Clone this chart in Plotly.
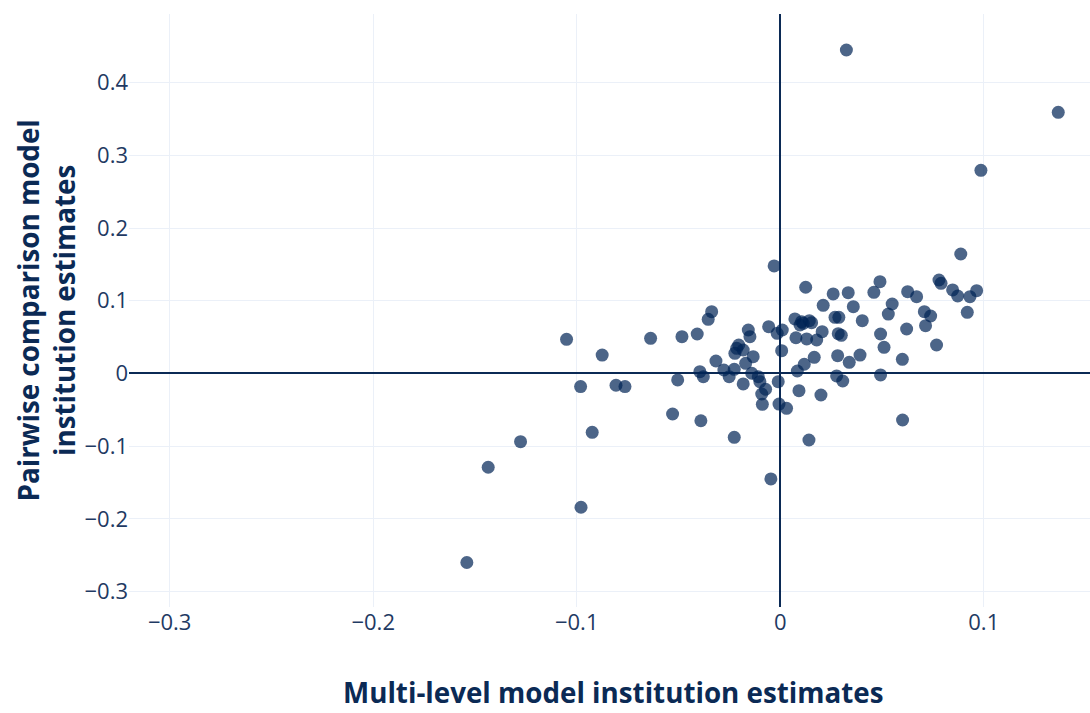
import plotly.graph_objects as go

multilevel_x = [
    -0.154, -0.1435, -0.1276, -0.0979, -0.0924, -0.105, -0.0875, -0.0981, -0.0807, -0.0763,
    -0.0637, -0.0529, -0.0504, -0.0483, -0.0408, -0.039, -0.0395, -0.0378, -0.0354, -0.0337,
    -0.0316, -0.0277, -0.0251, -0.0226, -0.0226, -0.0223, -0.0214, -0.0204, -0.0182, -0.0182,
    -0.017, -0.0157, -0.0149, -0.014, -0.0133, -0.0108, -0.010, -0.0091, -0.0088, -0.0072,
    -0.0057, -0.0046, -0.003, -0.0015, -0.001, -0.0006, 0.0007, 0.001, 0.0031, 0.0072,
    0.0077, 0.0084, 0.0092, 0.0097, 0.0105, 0.0113, 0.0118, 0.0125, 0.013, 0.0141,
    0.0143, 0.0154, 0.0167, 0.0179, 0.020, 0.0206, 0.0211, 0.026, 0.0269, 0.0277,
    0.0282, 0.0285, 0.0288, 0.030, 0.0307, 0.0325, 0.0334, 0.0339, 0.0359, 0.0392,
    0.0403, 0.046, 0.049, 0.0493, 0.0493, 0.051, 0.0531, 0.055, 0.060, 0.0601,
    0.0621, 0.0626, 0.067, 0.0708, 0.0714, 0.0739, 0.0768, 0.078, 0.079, 0.0847,
    0.0872, 0.0887, 0.0919, 0.0932, 0.0965, 0.0986, 0.1366,
]
pairwise_y = [
    -0.260, -0.129, -0.0938, -0.184, -0.0809, 0.047, 0.0254, -0.018, -0.0162, -0.018,
    0.0484, -0.0557, -0.0089, 0.0506, 0.0543, -0.065, 0.0025, -0.0044, 0.0745, 0.085,
    0.0172, 0.0048, -0.0044, 0.0058, -0.0878, 0.0278, 0.0346, 0.0392, 0.0323, -0.0144,
    0.014, 0.0598, 0.0506, 0.0003, 0.0231, -0.0044, -0.0113, -0.0282, -0.0424, -0.0217,
    0.0644, -0.145, 0.148, 0.0553, -0.0113, -0.042, 0.0314, 0.0598, -0.0479, 0.075,
    0.0492, 0.0034, -0.0236, 0.0667, 0.0713, 0.069, 0.0127, 0.1186, 0.0475, -0.0915,
    0.0726, 0.0699, 0.0223, 0.0461, -0.0296, 0.0575, 0.0938, 0.1094, 0.0773, -0.0034,
    0.0245, 0.0548, 0.0773, 0.0525, -0.0103, 0.445, 0.1112, 0.0154, 0.0919, 0.0254,
    0.0726, 0.1117, 0.1263, 0.0543, -0.002, 0.036, 0.0818, 0.0956, 0.0195, -0.064,
    0.0612, 0.1126, 0.1057, 0.085, 0.0658, 0.0791, 0.0392, 0.1286, 0.124, 0.1149,
    0.1066, 0.1644, 0.0842, 0.1057, 0.1139, 0.2795, 0.3593,
]

x_title = "Multi-level model institution estimates"
y_title = "Pairwise comparison model<br>institution estimates"

navy = "#0b2a55"
tick_color = "#1f3a63"

fig = go.Figure(
    go.Scatter(
        x=multilevel_x,
        y=pairwise_y,
        mode="markers",
        marker=dict(size=13, color="rgb(0,35,86)", opacity=0.7),
        hoverinfo="skip",
    )
)

fig.update_layout(
    template="plotly_white",
    width=1090,
    height=713,
    margin=dict(l=129, r=0, t=14, b=106),
    font=dict(family="Open Sans", size=22, color=tick_color),
    showlegend=False,
)
fig.update_xaxes(
    range=[-0.32, 0.1522],
    dtick=0.1,
    zeroline=True,
    zerolinecolor=navy,
    zerolinewidth=1.5,
    gridcolor="#EBF0F8",
    tickfont=dict(size=22, color=tick_color),
    automargin=False,
)
fig.update_yaxes(
    range=[-0.3212, 0.4945],
    dtick=0.1,
    zeroline=True,
    zerolinecolor=navy,
    zerolinewidth=1.5,
    gridcolor="#EBF0F8",
    tickfont=dict(size=22, color=tick_color),
    automargin=False,
)

# axis titles
fig.add_annotation(
    text="<b>" + x_title + "</b>",
    xref="paper", yref="paper", x=0.5, y=0,
    xanchor="center", yanchor="middle",
    xshift=4, yshift=-85, borderpad=0,
    showarrow=False,
    font=dict(size=27.75, color=navy),
)
fig.add_annotation(
    text="<b>" + y_title + "</b>",
    xref="paper", yref="paper", x=0, y=0.5,
    xanchor="center", yanchor="middle",
    xshift=-84, textangle=-90,
    showarrow=False,
    font=dict(size=27.75, color=navy),
)

fig.write_html("out.html")
